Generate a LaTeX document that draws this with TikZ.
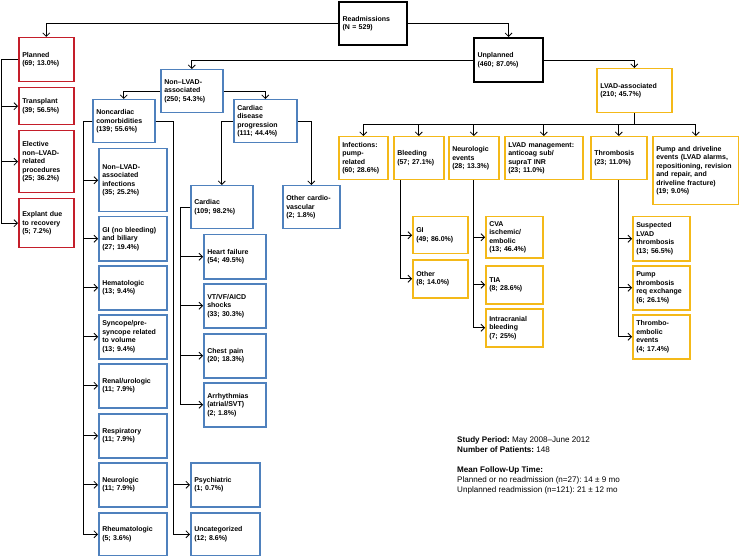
\documentclass[tikz,border=0pt]{standalone}
\usepackage{fontspec}
\setmainfont{Liberation Sans}
\frenchspacing
\usetikzlibrary{arrows.meta}
\definecolor{planRed}{HTML}{C41E2A}
\definecolor{nonBlue}{HTML}{4F81BD}
\definecolor{lvadGold}{HTML}{F4B919}
\tikzset{
  bx/.style={draw, anchor=north west, inner xsep=3.5pt, inner ysep=2pt, align=left, line width=1.5pt, font=\fontsize{7}{8.5}\selectfont\bfseries},
  redbx/.style={bx, draw=planRed},
  bluebx/.style={bx, draw=nonBlue},
  goldbx/.style={bx, draw=lvadGold},
  blackbx/.style={bx, draw=black, line width=2.2pt},
  arr/.style={-{Straight Barb[length=3.5pt,width=7pt]}, line width=0.8pt},
}
\begin{document}
\begin{tikzpicture}[x=1pt, y=-1pt]
  \useasboundingbox (0,0) rectangle (739,556);
  % top level
  \node[blackbx, text width=61pt, minimum height=43pt] (readm) at (338,1) {Readmissions\\(N = 529)};
  \node[blackbx, text width=62pt, minimum height=44pt] (unpl) at (473,37) {Unplanned\\(460; 87.0\%)};
  % planned
  \node[redbx, text width=48pt, minimum height=44pt] (planned) at (18,37) {Planned\\(69; 13.0\%)};
  \node[redbx, text width=48pt, minimum height=37pt] (transplant) at (18,87) {Transplant\\(39; 56.5\%)};
  \node[redbx, text width=48pt, minimum height=62pt] (elective) at (18,130) {Elective\\non–LVAD-\\related\\procedures\\(25; 36.2\%)};
  \node[redbx, text width=48pt, minimum height=49pt] (explant) at (18,198) {Explant due\\to recovery\\(5; 7.2\%)};
  % non-LVAD branch
  \node[bluebx, text width=55pt, minimum height=43pt] (nonlvad) at (160,69) {Non–LVAD-\\associated\\(250; 54.3\%)};
  \node[bluebx, text width=55pt, minimum height=43pt] (noncard) at (92,99) {Noncardiac\\comorbidities\\(139; 55.6\%)};
  \node[bluebx, text width=56pt, minimum height=43pt] (cdp) at (233,99) {Cardiac\\disease\\progression\\(111; 44.4\%)};
  \node[bluebx, text width=61pt, minimum height=63pt] (infect) at (98,148) {Non–LVAD-\\associated\\infections\\(35; 25.2\%)};
  \node[bluebx, text width=61pt, minimum height=44pt] (gi) at (98,216) {GI (no bleeding)\\and biliary\\(27; 19.4\%)};
  \node[bluebx, text width=61pt, minimum height=44pt] (hemat) at (98,265) {Hematologic\\(13; 9.4\%)};
  \node[bluebx, text width=61pt, minimum height=44pt] (syncope) at (98,314) {Syncope/pre-\\syncope related\\to volume\\(13; 9.4\%)};
  \node[bluebx, text width=61pt, minimum height=44pt] (renal) at (98,363) {Renal/urologic\\(11; 7.9\%)};
  \node[bluebx, text width=61pt, minimum height=44pt] (resp) at (98,413) {Respiratory\\(11; 7.9\%)};
  \node[bluebx, text width=61pt, minimum height=44pt] (neuro) at (98,462) {Neurologic\\(11; 7.9\%)};
  \node[bluebx, text width=61pt, minimum height=43pt] (rheum) at (98,512) {Rheumatologic\\(5; 3.6\%)};
  \node[bluebx, text width=62pt, minimum height=44pt] (psych) at (190,462) {Psychiatric\\(1; 0.7\%)};
  \node[bluebx, text width=62pt, minimum height=43pt] (uncat) at (190,512) {Uncategorized\\(12; 8.6\%)};
  \node[bluebx, text width=55pt, minimum height=43pt] (cardiac) at (190,185) {Cardiac\\(109; 98.2\%)};
  \node[bluebx, text width=50pt, minimum height=43pt] (othercv) at (282,185) {Other cardio-\\vascular\\(2; 1.8\%)};
  \node[bluebx, text width=55pt, minimum height=44pt] (hf) at (203,234) {Heart failure\\(54; 49.5\%)};
  \node[bluebx, text width=55pt, minimum height=44pt] (vt) at (203,283) {VT/VF/AICD\\shocks\\(33; 30.3\%)};
  \node[bluebx, text width=55pt, minimum height=44pt] (chest) at (203,333) {Chest pain\\(20; 18.3\%)};
  \node[bluebx, text width=55pt, minimum height=44pt] (arrhy) at (203,382) {Arrhythmias\\(atrial/SVT)\\(2; 1.8\%)};
  % LVAD branch
  \node[goldbx, text width=68pt, minimum height=44pt] (lvad) at (596,68) {LVAD-associated\\(210; 45.7\%)};
  \node[goldbx, text width=42pt, minimum height=43pt] (infpump) at (338,136) {Infections:\\pump-\\related\\(60; 28.6\%)};
  \node[goldbx, text width=43pt, minimum height=43pt] (bleed) at (393,136) {Bleeding\\(57; 27.1\%)};
  \node[goldbx, text width=43pt, minimum height=43pt] (neuroev) at (448,136) {Neurologic\\events\\(28; 13.3\%)};
  \node[goldbx, text width=71pt, minimum height=43pt] (mgmt) at (504,136) {LVAD management:\\anticoag sub/\\supraT INR\\(23; 11.0\%)};
  \node[goldbx, text width=49pt, minimum height=43pt] (thromb) at (590,136) {Thrombosis\\(23; 11.0\%)};
  \node[goldbx, text width=79pt, minimum height=68pt] (pump) at (652,136) {Pump and driveline\\events (LVAD alarms,\\repositioning, revision\\and repair, and\\driveline fracture)\\(19; 9.0\%)};
  \node[goldbx, text width=48pt, minimum height=37pt] (gibl) at (412,216) {GI\\(49; 86.0\%)};
  \node[goldbx, text width=48pt, minimum height=38pt] (otherbl) at (412,259) {Other\\(8; 14.0\%)};
  \node[goldbx, text width=50pt, minimum height=41pt] (cva) at (485,216) {CVA\\ischemic/\\embolic\\(13; 46.4\%)};
  \node[goldbx, text width=50pt, minimum height=38pt] (tia) at (485,265) {TIA\\(8; 28.6\%)};
  \node[goldbx, text width=50pt, minimum height=38pt] (intracr) at (485,308) {Intracranial\\bleeding\\(7; 25\%)};
  \node[goldbx, text width=50pt, minimum height=44pt] (susp) at (632,216) {Suspected\\LVAD\\thrombosis\\(13; 56.5\%)};
  \node[goldbx, text width=50pt, minimum height=44pt] (pumpthr) at (632,265) {Pump\\thrombosis\\req exchange\\(6; 26.1\%)};
  \node[goldbx, text width=50pt, minimum height=44pt] (embolic) at (632,314) {Thrombo-\\embolic\\events\\(4; 17.4\%)};
  % study info
  \node[anchor=north west, align=left, inner sep=0pt, font=\fontsize{8.1}{10}\selectfont] (study) at (457,436)
    {\textbf{Study Period:} May 2008–June 2012\\
     \textbf{Number of Patients:} 148\\[10pt]
     \textbf{Mean Follow-Up Time:}\\
     Planned or no readmission (n=27): 14 ± 9 mo\\
     Unplanned readmission (n=121): 21 ± 12 mo};
  % connectors
  \draw[arr] (readm.west) -| (planned.north);
  \draw[arr] (readm.east) -| (unpl.north);
  \foreach \n in {transplant,elective,explant}
    \draw[arr] (planned.west) -- ++(-17,0) |- (\n.west);
  \draw[arr] (unpl.west) -| (nonlvad.north);
  \draw[arr] (unpl.east) -| (lvad.north);
  \draw[arr] (nonlvad.west) -| (noncard.north);
  \draw[arr] (nonlvad.east) -| (cdp.north);
  \foreach \n in {infect,gi,hemat,syncope,renal,resp,neuro,rheum}
    \draw[arr] (noncard.west) -- ++(-9,0) |- (\n.west);
  \foreach \n in {psych,uncat}
    \draw[arr] (noncard.east) -- ++(18,0) |- (\n.west);
  \draw[arr] (cdp.west) -| (cardiac.north);
  \draw[arr] (cdp.east) -| (othercv.north);
  \foreach \n in {hf,vt,chest,arrhy}
    \draw[arr] (cardiac.west) -- ++(-10,0) |- (\n.west);
  \foreach \n in {infpump,bleed,neuroev,mgmt,thromb,pump}
    \draw[arr] (lvad.south) -- ++(0,11) -| (\n.north);
  \foreach \n in {gibl,otherbl}
    \draw[arr] ([xshift=7pt]bleed.south west) |- (\n.west);
  \foreach \n in {cva,tia,intracr}
    \draw[arr] (neuroev.south) |- (\n.west);
  \foreach \n in {susp,pumpthr,embolic}
    \draw[arr] (thromb.south) |- (\n.west);
\end{tikzpicture}
\end{document}
